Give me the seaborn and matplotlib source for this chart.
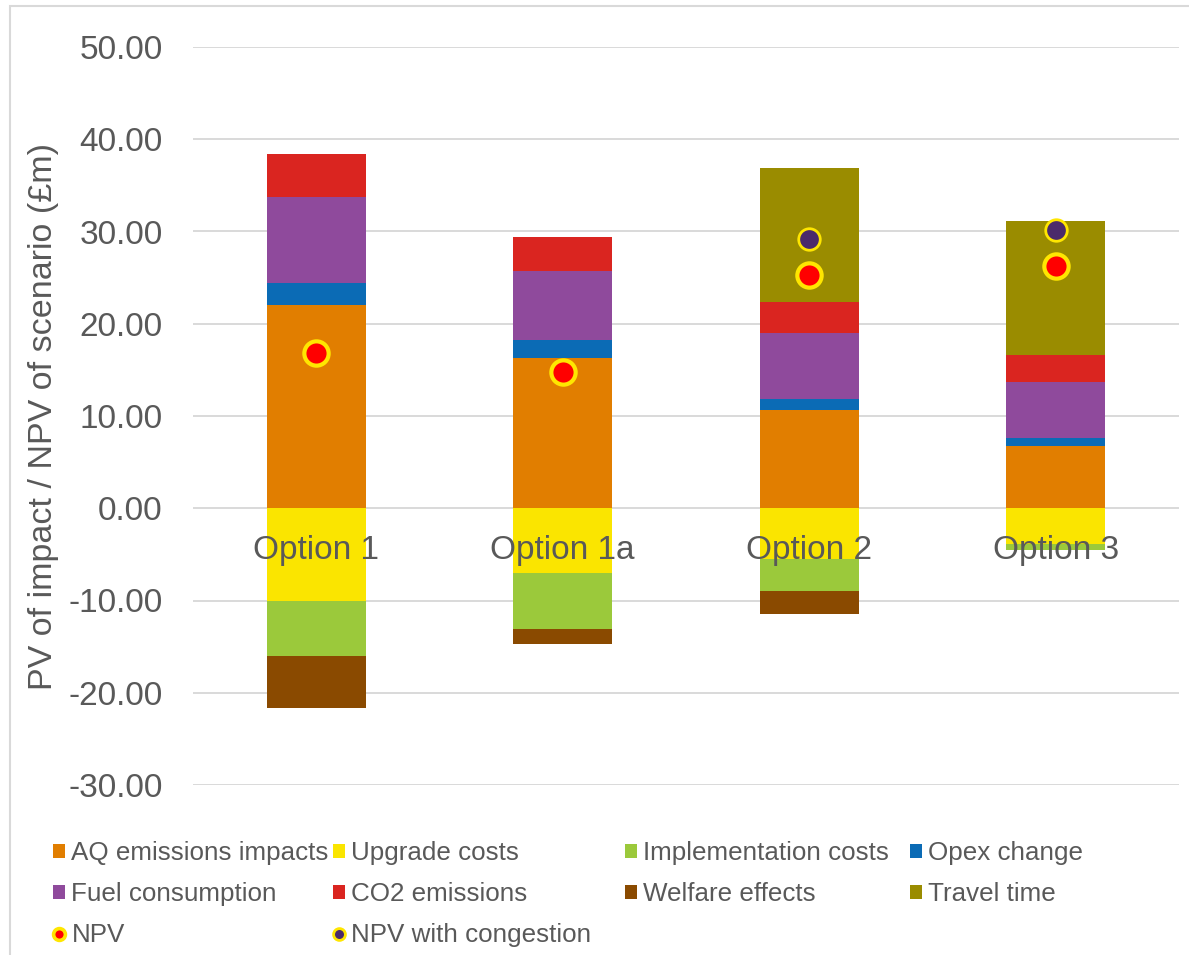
import numpy as np
import matplotlib
matplotlib.use("Agg")
import matplotlib.pyplot as plt
from matplotlib.patches import Patch, Rectangle
from matplotlib.lines import Line2D
from matplotlib.ticker import FuncFormatter, MultipleLocator
import seaborn as sns

# ---- data (PV in £m) ----
options = ["Option 1", "Option 1a", "Option 2", "Option 3"]

aq_emissions = [22.0, 16.3, 10.7, 6.8]
opex_change = [2.45, 1.9, 1.1, 0.8]
fuel_consumption = [9.3, 7.5, 7.2, 6.1]
co2_emissions = [4.7, 3.7, 3.4, 2.9]
travel_time = [0.0, 0.0, 14.5, 14.5]

upgrade_costs = [-10.0, -7.0, -5.55, -3.9]
implementation_costs = [-6.0, -6.1, -3.45, -0.6]
welfare_effects = [-5.6, -1.6, -2.5, 0.0]

npv = [16.85, 14.8, 25.3, 26.3]
npv_congestion = [np.nan, np.nan, 29.2, 30.2]

# ---- style ----
sns.set_style("white")
plt.rcParams["font.family"] = ["Liberation Sans", "DejaVu Sans"]
TEXT = "#595959"
GRID = "#D9D9D9"

colors = {
    "AQ emissions impacts": "#E17E00",
    "Upgrade costs": "#FAE500",
    "Implementation costs": "#9BC93B",
    "Opex change": "#0B6BB5",
    "Fuel consumption": "#8F4A9C",
    "CO2 emissions": "#DA2520",
    "Welfare effects": "#8A4A00",
    "Travel time": "#9A8C00",
}
NPV_FACE, NPV_EDGE = "#FF0000", "#FFE600"
CONG_FACE = "#4B2A6B"

W, H = 1189, 955
fig = plt.figure(figsize=(W / 100, H / 100), dpi=100)
ax = fig.add_axes([193 / W, 1 - 785 / H, 986 / W, 738 / H])

positive_layers = [
    ("AQ emissions impacts", aq_emissions),
    ("Opex change", opex_change),
    ("Fuel consumption", fuel_consumption),
    ("CO2 emissions", co2_emissions),
    ("Travel time", travel_time),
]
negative_layers = [
    ("Upgrade costs", upgrade_costs),
    ("Implementation costs", implementation_costs),
    ("Welfare effects", welfare_effects),
]

bar_kw = dict(order=options, width=0.4, errorbar=None, saturation=1,
              linewidth=0, edgecolor="none", ax=ax, zorder=2)

for layers in (positive_layers, negative_layers):
    base = np.zeros(len(options))
    for name, vals in layers:
        vals = np.asarray(vals, dtype=float)
        sns.barplot(x=options, y=vals, bottom=base, color=colors[name], **bar_kw)
        base = base + vals

# NPV markers
sns.pointplot(x=options, y=npv, order=options, linestyle="none", marker="o",
              markersize=17.5, markeredgewidth=3.0, color=NPV_FACE,
              markerfacecolor=NPV_FACE, markeredgecolor=NPV_EDGE,
              errorbar=None, ax=ax, zorder=5)
sns.pointplot(x=options, y=npv_congestion, order=options, linestyle="none", marker="o",
              markersize=15.5, markeredgewidth=2.0, color=CONG_FACE,
              markerfacecolor=CONG_FACE, markeredgecolor=NPV_EDGE,
              errorbar=None, ax=ax, zorder=5)

# ---- axes ----
ax.set_xlim(-0.5, len(options) - 0.5)
ax.set_ylim(-30, 50)
ax.yaxis.set_major_locator(MultipleLocator(10))
ax.yaxis.set_major_formatter(FuncFormatter(lambda v, _: f"{v:.2f}"))
for s in ax.spines.values():
    s.set_visible(False)
ax.spines["bottom"].set_position(("data", 0))
ax.set_axisbelow(True)
ax.yaxis.grid(True, color=GRID, linewidth=1.4)
ax.xaxis.grid(False)
ax.xaxis.set_zorder(10)
ax.tick_params(axis="x", length=0, pad=19, labelsize=24, labelcolor=TEXT)
ax.tick_params(axis="y", length=0, pad=22, labelsize=24, labelcolor=TEXT)
ax.set_xlabel("")
ax.set_ylabel("PV of impact / NPV of scenario (£m)", fontsize=24.5, color=TEXT, va="center")
ax.yaxis.set_label_coords(-(193 - 44) / 986, 0.5)

# ---- legend (four columns, filled row by row) ----
def sq(name):
    return Patch(facecolor=colors[name], edgecolor="none", label=name)

npv_h = Line2D([], [], marker="o", linestyle="none", markersize=8.5,
               markerfacecolor=NPV_FACE, markeredgecolor=NPV_EDGE,
               markeredgewidth=2.6, label="NPV")
cong_h = Line2D([], [], marker="o", linestyle="none", markersize=8.5,
                markerfacecolor=CONG_FACE, markeredgecolor=NPV_EDGE,
                markeredgewidth=2.0, label="NPV with congestion")

columns = [
    (53, [sq("AQ emissions impacts"), sq("Fuel consumption"), npv_h]),
    (333, [sq("Upgrade costs"), sq("CO2 emissions"), cong_h]),
    (625, [sq("Implementation costs"), sq("Welfare effects")]),
    (910, [sq("Opex change"), sq("Travel time")]),
]
for x_px, handles in columns:
    fig.legend(handles=handles, loc="upper left",
               bbox_to_anchor=(x_px / W, 1 - 841 / H),
               frameon=False, fontsize=18.7, labelcolor=TEXT,
               handlelength=0.46, handleheight=0.46, handletextpad=0.25,
               labelspacing=0.66, borderpad=0, borderaxespad=0)

# chart area border
fig.patches.append(Rectangle((10 / W, -0.05), 1.2, 1.05 - 6 / H,
                             transform=fig.transFigure, fill=False,
                             edgecolor=GRID, linewidth=1.5))

fig.savefig("out.png", dpi=100)
